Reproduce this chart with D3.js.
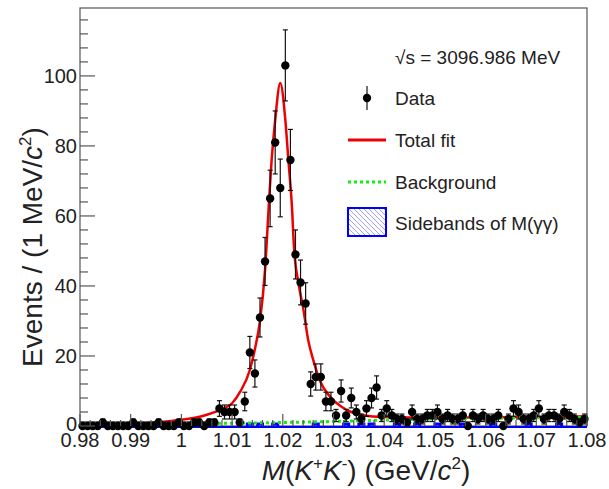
<!DOCTYPE html>
<html>
<head>
<meta charset="utf-8">
<script src="https://cdn.jsdelivr.net/npm/d3@7"></script>
<style>
  body { margin: 0; background: #fff; }
  text { font-family: "Liberation Sans", Arial, sans-serif; fill: #222; }
</style>
</head>
<body>
<div id="chart"></div>
<script>
// histogram binning: 1 MeV bins from 0.98 to 1.08 GeV
var xMin = 0.98, binWidth = 0.001;

// events per bin
var counts = [
  0, 0, 0, 0, 1, 0, 0, 0, 0, 0,
  1, 0, 0, 0, 0, 1, 0, 0, 0, 1,
  0, 0, 1, 1, 0, 1, 1, 5, 4, 4,
  4, 1, 7, 21, 15, 31, 47, 65, 81, 68,
  103, 76, 49, 41, 35, 12, 14, 14, 7, 7,
  3, 10, 3, 8, 4, 2, 5, 8, 11, 3,
  5, 3, 2, 2, 1, 4, 2, 2, 3, 3,
  4, 2, 3, 2, 2, 3, 0, 3, 2, 3,
  2, 2, 3, 0, 2, 5, 4, 2, 2, 3,
  5, 2, 3, 3, 2, 4, 3, 2, 1, 2
];

// sideband histogram (bins that are non-empty)
var sideBins = [17, 18, 33, 35, 38, 46, 52, 55, 57, 62, 66, 70, 75, 81, 88, 94];
var sideVals = [1, 1, 1, 1, 1, 1, 1, 1, 1, 1, 1, 1, 1, 1, 1, 1];

// total fit curve
var fitX = [0.980, 0.990, 0.995, 1.000, 1.004, 1.0076, 1.0100, 1.0116, 1.0135, 1.0145,
            1.0155, 1.0165, 1.0173, 1.0178, 1.0185, 1.0195, 1.0205, 1.0211, 1.0218, 1.0222,
            1.0231, 1.0241, 1.0250, 1.0260, 1.0273, 1.0293, 1.0326, 1.0359, 1.040, 1.050,
            1.060, 1.070, 1.080];
var fitY = [0.3, 0.7, 1.0, 1.8, 2.8, 4.6, 6.5, 9.8, 16, 22,
            30, 44.6, 64.6, 76, 87.4, 98, 87.4, 76, 62.7, 51.2,
            40.8, 33, 24.6, 18.9, 13, 8.4, 4.6, 3.1, 2.6, 2.4,
            2.5, 2.6, 2.8];

// background curve
var bgX = [0.980, 0.990, 1.000, 1.010, 1.020, 1.030, 1.040, 1.050, 1.060, 1.070, 1.080];
var bgY = [0.0, 0.3, 0.6, 0.8, 1.0, 1.3, 1.7, 2.0, 2.2, 2.35, 2.5];

var xTicks = [0.98, 0.99, 1.00, 1.01, 1.02, 1.03, 1.04, 1.05, 1.06, 1.07, 1.08];
var xTickLabels = ["0.98", "0.99", "1", "1.01", "1.02", "1.03", "1.04", "1.05", "1.06", "1.07", "1.08"];
var yTicks = [0, 20, 40, 60, 80, 100];

var margin = {top: 8, right: 22, bottom: 63, left: 80},
    width = 609 - margin.left - margin.right,
    height = 489 - margin.top - margin.bottom;

var svg = d3.select("#chart")
  .append("svg")
    .attr("width", 609)
    .attr("height", 489);

var defs = svg.append("defs");
defs.append("clipPath").attr("id", "frameClip")
  .append("rect").attr("width", width).attr("height", height + 4).attr("y", -2);
var hatch = defs.append("pattern")
    .attr("id", "hatch")
    .attr("patternUnits", "userSpaceOnUse")
    .attr("width", 5).attr("height", 5);
hatch.append("path")
    .attr("d", "M-1,-1 L6,6 M-1,4 L1,6 M4,-1 L6,1")
    .attr("stroke", "#8888ee")
    .attr("stroke-width", 0.8);

var g = svg.append("g")
    .attr("transform", "translate(" + margin.left + "," + margin.top + ")");

var x = d3.scaleLinear().domain([0.98, 1.08]).range([0, width]);
var y = d3.scaleLinear().domain([0, 119.4]).range([height, 0]);

// frame first so the histograms sit on top of it
var axisCol = "#555";
g.append("rect")
    .attr("width", width).attr("height", height)
    .attr("fill", "none")
    .attr("stroke", axisCol)
    .attr("stroke-width", 1.2);

var plot = g.append("g").attr("clip-path", "url(#frameClip)");

// sideband histogram as a step outline
var side = counts.map(function(){ return 0; });
sideBins.forEach(function(b, i){ side[b] = sideVals[i]; });
var stepPts = [];
side.forEach(function(v, i){
  stepPts.push([xMin + i * binWidth, v]);
  stepPts.push([xMin + (i + 1) * binWidth, v]);
});
plot.append("path")
    .datum(stepPts)
    .attr("fill", "url(#hatch)")
    .attr("stroke", "#0000ff")
    .attr("stroke-width", 3)
    .attr("d", d3.area()
        .x(function(d){ return x(d[0]); })
        .y0(y(0) + 1.5)
        .y1(function(d){ return y(d[1]) + 1.5; }));

// total fit
plot.append("path")
    .datum(d3.zip(fitX, fitY))
    .attr("fill", "none")
    .attr("stroke", "#ee0000")
    .attr("stroke-width", 2.5)
    .attr("d", d3.line()
        .x(function(d){ return x(d[0]); })
        .y(function(d){ return y(d[1]); })
        .curve(d3.curveMonotoneX));

// background
plot.append("path")
    .datum(d3.zip(bgX, bgY))
    .attr("fill", "none")
    .attr("stroke", "#11ee11")
    .attr("stroke-width", 3)
    .attr("stroke-dasharray", "3,3")
    .attr("d", d3.line()
        .x(function(d){ return x(d[0]); })
        .y(function(d){ return y(d[1]); })
        .curve(d3.curveMonotoneX));

// data points with poisson-like errors
var pts = counts.map(function(n, i){
  var e = Math.sqrt(n);
  return {m: xMin + (i + 0.5) * binWidth, n: n, lo: n - e, hi: n > 0 ? n + e : 1.15};
});
var dataG = g.append("g");
dataG.selectAll("errLines")
  .data(pts)
  .enter()
  .append("line")
    .attr("x1", function(d){ return x(d.m); })
    .attr("x2", function(d){ return x(d.m); })
    .attr("y1", function(d){ return y(Math.max(d.lo, 0)); })
    .attr("y2", function(d){ return y(d.hi); })
    .attr("stroke", "#111")
    .attr("stroke-width", 1.2);
dataG.selectAll("capTop")
  .data(pts)
  .enter()
  .append("line")
    .attr("x1", function(d){ return x(d.m) - 2.5; })
    .attr("x2", function(d){ return x(d.m) + 2.5; })
    .attr("y1", function(d){ return y(d.hi); })
    .attr("y2", function(d){ return y(d.hi); })
    .attr("stroke", "#111")
    .attr("stroke-width", 1.2);
dataG.selectAll("capBot")
  .data(pts.filter(function(d){ return d.n > 0; }))
  .enter()
  .append("line")
    .attr("x1", function(d){ return x(d.m) - 2.5; })
    .attr("x2", function(d){ return x(d.m) + 2.5; })
    .attr("y1", function(d){ return y(d.lo); })
    .attr("y2", function(d){ return y(d.lo); })
    .attr("stroke", "#111")
    .attr("stroke-width", 1.2);
dataG.selectAll("dots")
  .data(pts)
  .enter()
  .append("circle")
    .attr("cx", function(d){ return x(d.m); })
    .attr("cy", function(d){ return y(d.n); })
    .attr("r", 4.2)
    .attr("fill", "#000");

// y axis ticks (inside)
var yAxis = g.append("g");
yAxis.selectAll("minorY")
  .data(d3.range(0, 119, 4))
  .enter()
  .append("line")
    .attr("x1", 0).attr("x2", function(d){ return d % 20 === 0 ? 15 : 8; })
    .attr("y1", function(d){ return y(d); })
    .attr("y2", function(d){ return y(d); })
    .attr("stroke", axisCol)
    .attr("stroke-width", 1.2);
yAxis.selectAll("ylab")
  .data(yTicks)
  .enter()
  .append("text")
    .attr("x", -3)
    .attr("y", function(d){ return y(d) + (d === 0 ? 5 : 7); })
    .attr("text-anchor", "end")
    .style("font-size", "20px")
    .text(function(d){ return d; });

// x axis ticks (inside)
var xAxis = g.append("g");
xAxis.selectAll("minorX")
  .data(d3.range(0, 51))
  .enter()
  .append("line")
    .attr("x1", function(d){ return x(0.98 + d * 0.002); })
    .attr("x2", function(d){ return x(0.98 + d * 0.002); })
    .attr("y1", height)
    .attr("y2", function(d){ return height - (d % 5 === 0 ? 12 : 6); })
    .attr("stroke", axisCol)
    .attr("stroke-width", 1.2);
xAxis.selectAll("xlab")
  .data(xTicks)
  .enter()
  .append("text")
    .attr("x", function(d){ return x(d); })
    .attr("y", height + 21)
    .attr("text-anchor", "middle")
    .style("font-size", "20px")
    .text(function(d, i){ return xTickLabels[i]; });

// x title
var xt = svg.append("text")
    .attr("x", 366)
    .attr("y", 480)
    .attr("text-anchor", "middle")
    .style("font-size", "28px");
xt.append("tspan").style("font-style", "italic").text("M");
xt.append("tspan").text("(");
xt.append("tspan").style("font-style", "italic").text("K");
xt.append("tspan").attr("dy", -11).style("font-size", "17px").text("+");
xt.append("tspan").attr("dy", 11).style("font-style", "italic").text("K");
xt.append("tspan").attr("dy", -11).style("font-size", "17px").text("-");
xt.append("tspan").attr("dy", 11).text(") (GeV/");
xt.append("tspan").style("font-style", "italic").text("c");
xt.append("tspan").attr("dy", -11).style("font-size", "17px").text("2");
xt.append("tspan").attr("dy", 11).text(")");

// y title
var yt = svg.append("text")
    .attr("transform", "translate(42,247) rotate(-90)")
    .attr("text-anchor", "middle")
    .style("font-size", "28px");
yt.append("tspan").text("Events / (1 MeV/");
yt.append("tspan").style("font-style", "italic").text("c");
yt.append("tspan").attr("dy", -11).style("font-size", "17px").text("2");
yt.append("tspan").attr("dy", 11).text(")");

// legend
var leg = svg.append("g");
leg.append("text").attr("x", 395).attr("y", 64).style("font-size", "19px")
   .text("\u221As = 3096.986 MeV");
leg.append("line").attr("x1", 367).attr("x2", 367).attr("y1", 86).attr("y2", 110)
   .attr("stroke", "#111").attr("stroke-width", 1.2);
leg.append("circle").attr("cx", 367).attr("cy", 98).attr("r", 4.2).attr("fill", "#000");
leg.append("text").attr("x", 395).attr("y", 105).style("font-size", "19px").text("Data");
leg.append("line").attr("x1", 348).attr("x2", 386).attr("y1", 140).attr("y2", 140)
   .attr("stroke", "#ee0000").attr("stroke-width", 3);
leg.append("text").attr("x", 395).attr("y", 147).style("font-size", "19px").text("Total fit");
leg.append("line").attr("x1", 348).attr("x2", 386).attr("y1", 182).attr("y2", 182)
   .attr("stroke", "#11ee11").attr("stroke-width", 3).attr("stroke-dasharray", "3,3");
leg.append("text").attr("x", 395).attr("y", 189).style("font-size", "19px").text("Background");
leg.append("rect").attr("x", 348).attr("y", 208).attr("width", 38).attr("height", 28)
   .attr("fill", "url(#hatch)").attr("stroke", "#0000ff").attr("stroke-width", 2);
leg.append("text").attr("x", 395).attr("y", 230).style("font-size", "19px")
   .text("Sidebands of M(\u03B3\u03B3)");
</script>
</body>
</html>
